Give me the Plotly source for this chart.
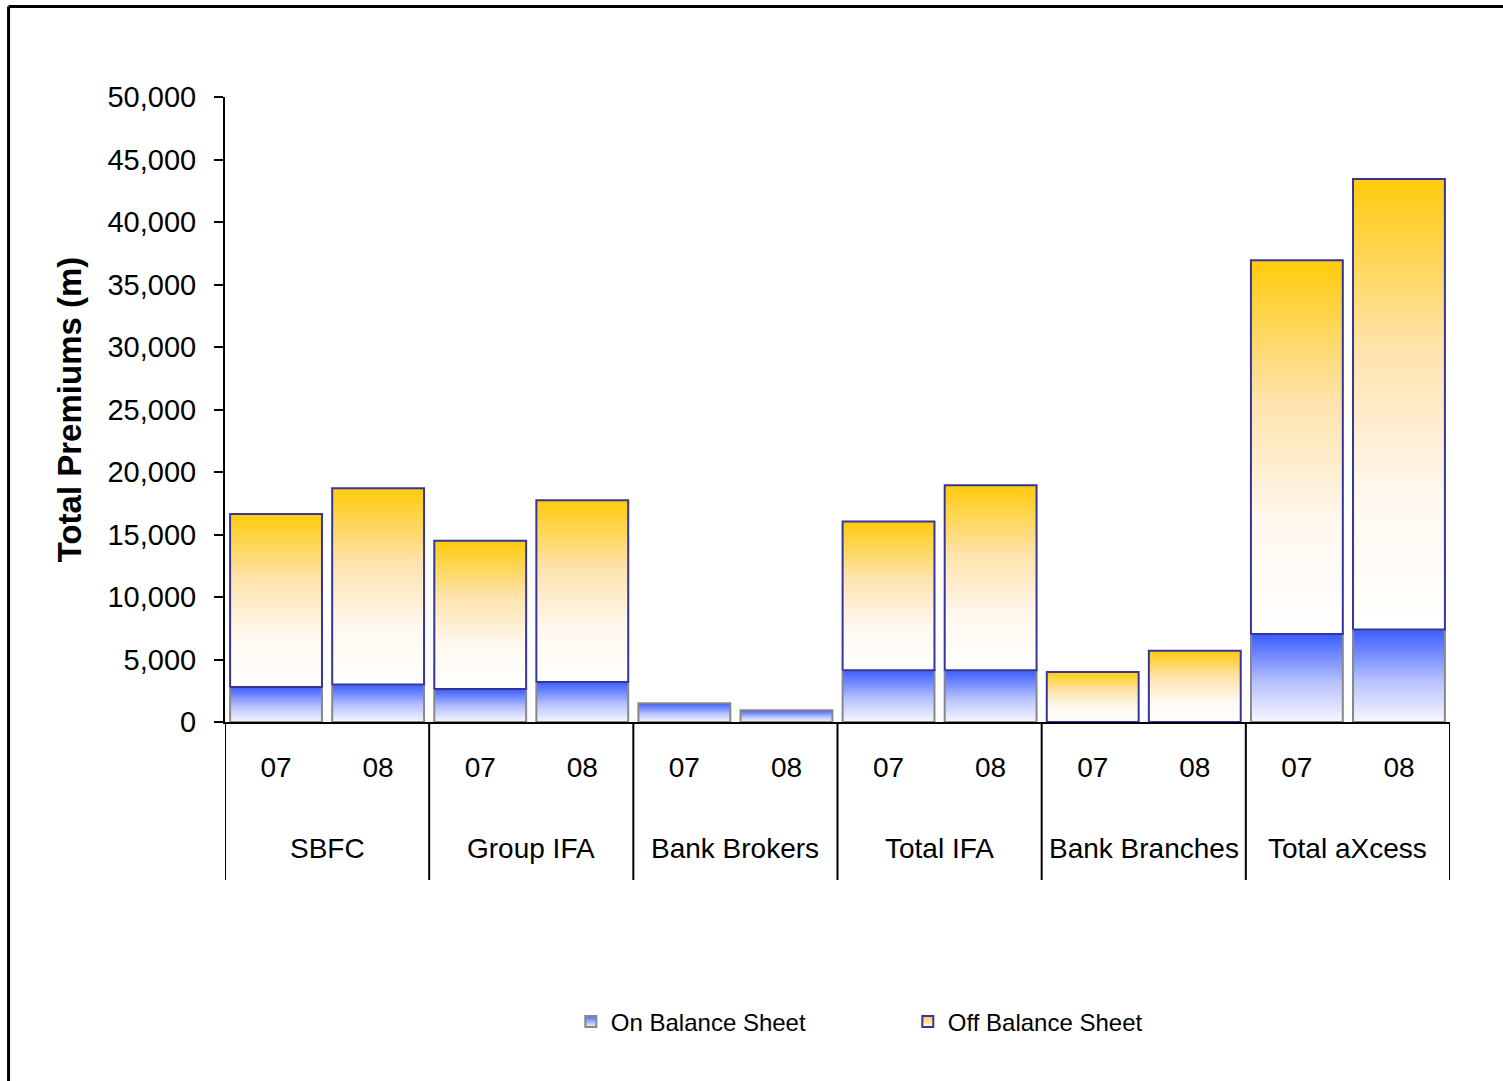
import plotly.graph_objects as go

# Premium income by channel, split into on- and off-balance-sheet business
groups = ["SBFC", "Group IFA", "Bank Brokers", "Total IFA", "Bank Branches", "Total aXcess"]
years = ["07", "08"]
on_balance = [2800, 3000, 2650, 3200, 1500, 950, 4150, 4150, 0, 0, 7050, 7400]
off_balance = [13850, 15700, 11850, 14550, 0, 0, 11900, 14800, 4000, 5700, 29900, 36050]
y_ticks = list(range(0, 50001, 5000))

FONT = "Liberation Sans, Arial, sans-serif"
BAR_HALF = 0.45
ON_LINE = "#888888"
OFF_LINE = "#35359c"
ON_SCALE = [[0, "#f7f7ff"], [0.45, "#b6c1ff"], [1, "#3a5cff"]]
OFF_SCALE = [[0, "#ffffff"], [0.3, "#fff8ee"], [0.62, "#fee3ad"], [1, "#ffcb0c"]]

slots = [(g, y) for g in groups for y in years]
positions = list(range(len(slots)))

fig = go.Figure()


def add_segment(x, base, height, line_color, scale, group):
    """One stacked bar segment with a vertical colour gradient."""
    if height <= 0:
        return
    top = base + height
    fig.add_trace(go.Scatter(
        x=[x - BAR_HALF, x + BAR_HALF, x + BAR_HALF, x - BAR_HALF, x - BAR_HALF],
        y=[base, base, top, top, base],
        mode="lines",
        fill="toself",
        line=dict(color=line_color, width=2),
        fillgradient=dict(type="vertical", colorscale=scale, start=base, stop=top),
        showlegend=False,
        legendgroup=group,
        hoverinfo="skip",
    ))


for x, on, off in zip(positions, on_balance, off_balance):
    add_segment(x, 0, on, ON_LINE, ON_SCALE, "on")
    add_segment(x, on, off, OFF_LINE, OFF_SCALE, "off")

# legend keys
fig.add_trace(go.Scatter(
    x=[None], y=[None], mode="markers", name="On Balance Sheet", legendgroup="on",
    marker=dict(symbol="square", size=11, color="#4a6aff",
                gradient=dict(type="vertical", color="#f4f4ff"),
                line=dict(color=ON_LINE, width=2)),
))
fig.add_trace(go.Scatter(
    x=[None], y=[None], mode="markers", name="Off Balance Sheet", legendgroup="off",
    marker=dict(symbol="square", size=11, color="#ffd040",
                gradient=dict(type="vertical", color="#fff8e8"),
                line=dict(color=OFF_LINE, width=2)),
))

# category dividers below the axis and group labels
shapes = []
for k in range(len(groups) + 1):
    xb = -0.5 + k * len(years)
    shapes.append(dict(type="line", xref="x", yref="paper", x0=xb, x1=xb, y0=0, y1=-0.2528,
                       line=dict(color="black", width=2)))
# chart frame
shapes.append(dict(type="line", xref="paper", yref="paper", x0=-0.1767, x1=-0.1767,
                   y0=1.1448, y1=-0.62, line=dict(color="black", width=3)))
shapes.append(dict(type="line", xref="paper", yref="paper", x0=-0.1767, x1=1.1,
                   y0=1.1448, y1=1.1448, line=dict(color="black", width=3)))

annotations = []
for k, g in enumerate(groups):
    annotations.append(dict(x=k * len(years) + (len(years) - 1) / 2, y=-0.2016, xref="x", yref="paper",
                            text=g, showarrow=False, yanchor="middle",
                            font=dict(family=FONT, size=28, color="black")))

fig.update_layout(
    width=1503,
    height=1081,
    margin=dict(l=225, r=53, t=97, b=359),
    paper_bgcolor="white",
    plot_bgcolor="white",
    font=dict(family=FONT, color="black"),
    shapes=shapes,
    annotations=annotations,
    showlegend=True,
    legend=dict(orientation="h", x=0.2823, xanchor="left", y=-0.48, yanchor="middle",
                font=dict(family=FONT, size=24, color="black"),
                entrywidth=292, entrywidthmode="pixels", itemwidth=30,
                bgcolor="rgba(0,0,0,0)"),
    xaxis=dict(
        range=[-0.5, len(slots) - 0.5],
        tickvals=positions,
        ticktext=[y for _, y in slots],
        showline=True, linecolor="black", linewidth=2,
        ticks="", showgrid=False, zeroline=False,
        tickfont=dict(family=FONT, size=28, color="black"),
        ticklabelstandoff=19,
        fixedrange=True,
    ),
    yaxis=dict(
        range=[0, 50000],
        tickvals=y_ticks,
        tickformat=",d",
        ticks="outside", ticklen=9, tickwidth=2, tickcolor="black",
        showline=True, linecolor="black", linewidth=2,
        showgrid=False, zeroline=False,
        tickfont=dict(family=FONT, size=29, color="black"),
        ticklabelstandoff=12,
        title=dict(text="<b>Total Premiums (m)</b>", standoff=16,
                   font=dict(family=FONT, size=33, color="black")),
        fixedrange=True,
    ),
)

fig.write_html("out.html")
